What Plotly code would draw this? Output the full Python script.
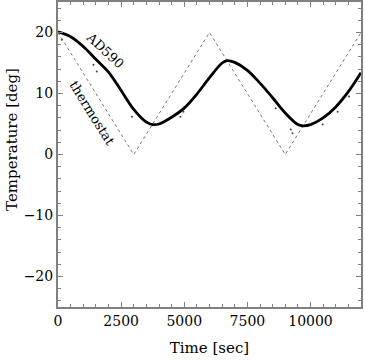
import plotly.graph_objects as go

# Thermostat set-point (triangle wave) [sec], [deg]
thermo_t = [0, 3000, 6000, 9000, 12000]
thermo_T = [20, 0, 20, 0, 20]

ad_t = [0, 500, 1000, 1500, 2000, 2500, 3000, 3500, 3750, 4000, 4500, 5000,
        5500, 6000, 6500, 6700, 7000, 7500, 8000, 8500, 9000, 9500, 9700,
        10000, 10500, 11000, 11500, 12000]
ad_T = [20.1, 19.3, 17.7, 15.6, 13.5, 10.5, 7.4, 5.3, 4.9, 5.0, 6.1, 7.6,
        9.9, 12.6, 15.0, 15.4, 15.1, 13.8, 11.7, 9.3, 6.8, 4.9, 4.7,
        4.9, 6.0, 7.8, 10.3, 13.4]

# Scattered individual AD590 samples off the main trace
noise_t = [147, 1403, 1537, 2928, 4848, 4968, 8623, 9220, 9286, 10480, 11075, 11525]
noise_T = [18.8, 14.7, 13.6, 6.2, 6.2, 7.0, 7.6, 4.1, 3.5, 4.9, 7.0, 9.5]

x_ticks = [0, 2500, 5000, 7500, 10000]
x_ticktext = ["0", "2500", "5000", "7500", "10000"]
y_ticks = [-20, -10, 0, 10, 20]

FONT = "DejaVu Serif"

fig = go.Figure()
fig.add_trace(go.Scatter(x=thermo_t, y=thermo_T, mode="lines",
                         line=dict(color="#777777", width=1, dash="3px,3px"),
                         showlegend=False, hoverinfo="skip"))
fig.add_trace(go.Scatter(x=noise_t, y=noise_T, mode="markers",
                         marker=dict(color="#444444", size=2),
                         showlegend=False, hoverinfo="skip"))
fig.add_trace(go.Scatter(x=ad_t, y=ad_T, mode="lines", line_shape="spline",
                         line=dict(color="black", width=2.8),
                         showlegend=False, hoverinfo="skip"))

fig.add_annotation(x=1868, y=17.0, text="AD590", showarrow=False, textangle=43,
                   font=dict(family=FONT, size=13, color="black"))
fig.add_annotation(x=1371, y=6.8, text="thermostat", showarrow=False, textangle=58,
                   font=dict(family=FONT, size=13, color="black"))
# y-axis title (placed like the original, slightly above the axis centre)
fig.add_annotation(xref="paper", yref="paper", x=-0.152, y=0.551,
                   xanchor="center", yanchor="middle", text="Temperature [deg]",
                   textangle=-90, showarrow=False,
                   font=dict(family=FONT, size=15, color="black"))

axis_common = dict(showline=True, linecolor="#808080", linewidth=2, mirror="allticks",
                   ticks="inside", ticklen=5, tickwidth=1, tickcolor="#808080",
                   showgrid=False, zeroline=False, automargin=False,
                   tickfont=dict(family=FONT, size=14, color="black"))

fig.update_xaxes(range=[0, 12000], tickvals=x_ticks, ticktext=x_ticktext,
                 minor=dict(dtick=500, ticks="inside", ticklen=3, tickcolor="#808080"),
                 title=dict(text="Time [sec]", font=dict(family=FONT, size=15, color="black")),
                 **axis_common)
fig.update_yaxes(range=[-25, 25], tickvals=y_ticks,
                 minor=dict(dtick=2, ticks="inside", ticklen=3, tickcolor="#808080"),
                 **axis_common)

fig.update_layout(width=365, height=360, plot_bgcolor="white", paper_bgcolor="white",
                  margin=dict(l=58, r=4, t=2, b=53), showlegend=False)

fig.write_html("out.html", config={"displayModeBar": False},
               post_script="document.body.style.margin='0';")
